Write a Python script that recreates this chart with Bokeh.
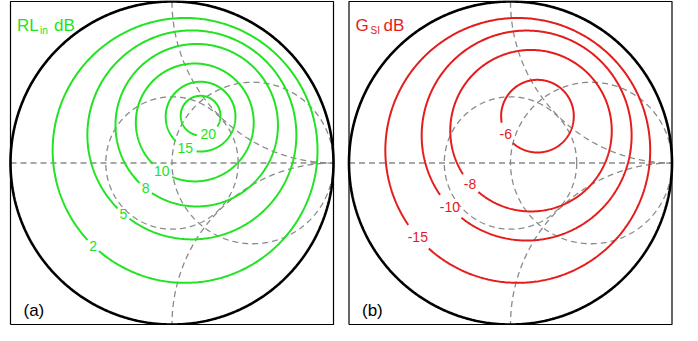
import numpy as np
from bokeh.plotting import figure
from bokeh.models import Range1d
from bokeh.core.properties import value
from bokeh.embed import file_html
from bokeh.resources import INLINE

# ---------------- data (reflection-coefficient plane) ----------------
# (a) input return-loss contours: level, circle centre (re, im), radius, label angle (deg)
rl_levels = ["2", "5", "8", "10", "15", "20"]
rl_cx = [0.081, 0.123, 0.153, 0.141, 0.177, 0.177]
rl_cy = [0.078, 0.174, 0.234, 0.251, 0.287, 0.293]
rl_r = [0.820, 0.647, 0.503, 0.365, 0.216, 0.123]
rl_label_deg = [-134, -131, -129, -124, -116, -67]

# (b) source mismatch gain contours
gs_levels = ["-15", "-10", "-8", "-6"]
gs_cx = [0.045, 0.100, 0.127, 0.167]
gs_cy = [0.078, 0.170, 0.200, 0.290]
gs_r = [0.820, 0.650, 0.500, 0.225]
gs_label_deg = [-139, -137, -139, -151]

# Smith-chart grid drawn dashed
grid_resistance = [1.0]          # constant normalised resistance circles
grid_reactance = [1.0, -1.0]     # constant normalised reactance arcs
grid_gamma = [0.41]              # constant |Gamma| circle

panel_titles = [("RL", "in", "dB"), ("G", "SI", "dB")]
panel_tags = ["(a)", "(b)"]

# ---------------- figure ----------------
S = 161.5                      # px per unit of |Gamma|
W, H = 682, 325
x0 = -171.5 / S
p = figure(width=W, height=H, x_range=Range1d(x0, x0 + W / S),
           y_range=Range1d(-H / 2 / S, H / 2 / S),
           output_backend="svg", toolbar_location=None, min_border=0)
p.axis.visible = False
p.grid.visible = False
p.outline_line_color = None
p.background_fill_color = "white"
p.border_fill_color = "white"

offsets = [0.0, 510 / S + x0]
GREEN = "#22e322"
RED = "#e51c1c"
GREY = "#8a8a8a"
FONT = "Liberation Sans"
t = np.linspace(0, 2 * np.pi, 721)


def draw_grid(ox):
    # real axis
    p.line([ox - 1, ox + 1], [0, 0], line_color=GREY, line_width=1.3, line_dash="6 4")
    for rr in grid_resistance:
        c, rad = rr / (1 + rr), 1 / (1 + rr)
        p.line(ox + c + rad * np.cos(t), rad * np.sin(t), line_color=GREY,
               line_width=1.3, line_dash="6 4")
    for xx in grid_reactance:
        rad = 1 / abs(xx)
        cy = 1 / xx
        # arc inside the unit circle from the rim point to Gamma = 1
        pts = np.linspace(0, 2 * np.pi, 2000)
        gx = 1 + rad * np.cos(pts)
        gy = cy + rad * np.sin(pts)
        m = gx ** 2 + gy ** 2 <= 1.0000001
        idx = np.where(m)[0]
        gx, gy = gx[idx], gy[idx]
        order = np.argsort(np.arctan2(gy - cy, gx - 1))
        p.line(ox + gx[order], gy[order], line_color=GREY, line_width=1.3, line_dash="6 4")
    for g in grid_gamma:
        p.line(ox + g * np.cos(t), g * np.sin(t), line_color=GREY, line_width=1.3,
               line_dash="6 4")


def draw_contours(ox, levels, cx, cy, r, ang, color):
    for lev, a, b, rad, d in zip(levels, cx, cy, r, ang):
        half_gap = (3.9 * len(lev) + 4) / (rad * S)
        a0 = np.radians(d)
        tt = np.linspace(a0 + half_gap, a0 + 2 * np.pi - half_gap, 500)
        p.line(ox + a + rad * np.cos(tt), b + rad * np.sin(tt), line_color=color,
               line_width=2)
        p.text(x=[ox + a + rad * np.cos(a0)], y=[b + rad * np.sin(a0)], text=[lev],
               text_color=color, text_font=value(FONT), text_font_size="14px",
               text_align="center", text_baseline="middle")


for k, ox in enumerate(offsets):
    # frame
    p.line([ox - 1, ox + 1, ox + 1, ox - 1, ox - 1], [-1, -1, 1, 1, -1],
           line_color="black", line_width=1.2)
    draw_grid(ox)
    if k == 0:
        draw_contours(ox, rl_levels, rl_cx, rl_cy, rl_r, rl_label_deg, GREEN)
        col = GREEN
        offs = (23, 37)
    else:
        draw_contours(ox, gs_levels, gs_cx, gs_cy, gs_r, gs_label_deg, RED)
        col = RED
        offs = (15, 28)
    # outer rim
    p.line(ox + np.cos(t), np.sin(t), line_color="black", line_width=2.6)
    main, sub, unit = panel_titles[k]
    tx, ty = ox - 1 + 0.04, 1 - 24 / S
    p.text(x=[tx], y=[ty], text=[main], text_color=col, text_font=value(FONT),
           text_font_size="17px", text_baseline="alphabetic")
    p.text(x=[tx], y=[ty], text=[sub], text_color=col, text_font=value(FONT),
           text_font_size="10px", text_baseline="alphabetic", x_offset=offs[0], y_offset=5)
    p.text(x=[tx], y=[ty], text=[unit], text_color=col, text_font=value(FONT),
           text_font_size="17px", text_baseline="alphabetic", x_offset=offs[1])
    p.text(x=[ox - 1 + 13 / S], y=[-1 + 14 / S], text=[panel_tags[k]], text_color="black",
           text_font=value(FONT), text_font_size="17px", text_baseline="alphabetic")

open("out.html", "w").write(file_html(p, INLINE))
